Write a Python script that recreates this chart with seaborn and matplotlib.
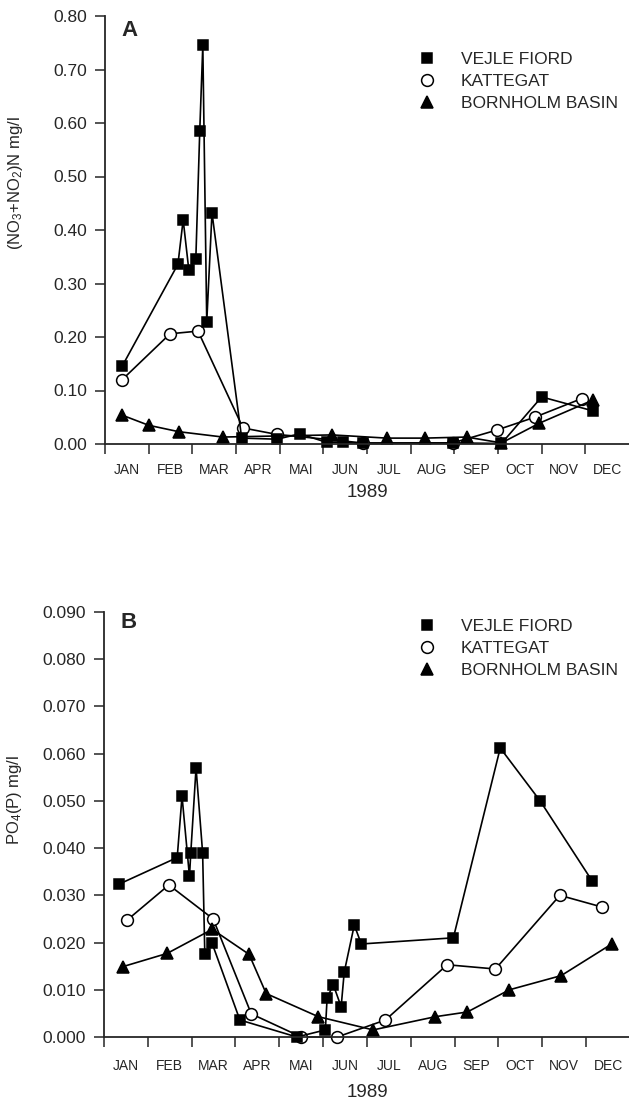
import numpy as np
import pandas as pd
import matplotlib
matplotlib.use("Agg")
import matplotlib.pyplot as plt
from matplotlib.lines import Line2D
import seaborn as sns

# ---------------- data ----------------
months = ['JAN', 'FEB', 'MAR', 'APR', 'MAI', 'JUN', 'JUL', 'AUG', 'SEP', 'OCT', 'NOV', 'DEC']
series_names = ['VEJLE FIORD', 'KATTEGAT', 'BORNHOLM BASIN']

# Panel A: (NO3+NO2)N mg/l ; x in months since 1 Jan 1989
vejle_a_x = [0.39, 1.67, 1.79, 1.92, 2.08, 2.17, 2.24, 2.33, 2.45, 3.13, 3.94, 4.46, 5.08, 5.45, 5.90, 7.96, 9.08, 10.00, 11.17]
vejle_a_y = [0.145, 0.336, 0.419, 0.325, 0.346, 0.585, 0.745, 0.228, 0.432, 0.011, 0.009, 0.019, 0.003, 0.003, 0.001, 0.002, 0.001, 0.088, 0.062]
kattegat_a_x = [0.39, 1.49, 2.13, 3.16, 3.93, 5.90, 7.96, 8.97, 9.84, 10.92]
kattegat_a_y = [0.120, 0.206, 0.211, 0.030, 0.018, 0.002, 0.002, 0.026, 0.050, 0.085]
bornholm_a_x = [0.39, 1.00, 1.69, 2.70, 5.20, 6.45, 7.32, 8.28, 9.08, 9.95, 11.17]
bornholm_a_y = [0.054, 0.035, 0.023, 0.013, 0.017, 0.011, 0.011, 0.013, 0.002, 0.039, 0.082]

# Panel B: PO4(P) mg/l
vejle_b_x = [0.35, 1.67, 1.78, 1.95, 1.98, 2.10, 2.25, 2.30, 2.46, 3.10, 4.40, 5.05, 5.09, 5.23, 5.41, 5.48, 5.71, 5.87, 7.97, 9.04, 9.95, 11.14]
vejle_b_y = [0.0324, 0.038, 0.051, 0.034, 0.039, 0.057, 0.039, 0.0175, 0.020, 0.0036, 0.0, 0.0015, 0.0082, 0.0111, 0.0064, 0.0137, 0.0237, 0.0197, 0.021, 0.0612, 0.050, 0.033]
kattegat_b_x = [0.52, 1.48, 2.49, 3.36, 4.50, 5.32, 6.42, 7.83, 8.93, 10.40, 11.37]
kattegat_b_y = [0.0247, 0.0322, 0.025, 0.0049, 0.0, 0.0, 0.0036, 0.0153, 0.0144, 0.030, 0.0275]
bornholm_b_x = [0.43, 1.44, 2.47, 3.31, 3.70, 4.89, 6.14, 7.56, 8.29, 9.25, 10.43, 11.60]
bornholm_b_y = [0.0149, 0.0177, 0.0228, 0.0175, 0.0092, 0.0043, 0.0015, 0.0043, 0.0053, 0.010, 0.013, 0.0198]

yticks_a = [0.0, 0.1, 0.2, 0.3, 0.4, 0.5, 0.6, 0.7, 0.8]
yticks_b = [0.0, 0.01, 0.02, 0.03, 0.04, 0.05, 0.06, 0.07, 0.08, 0.09]

# ---------------- style ----------------
sns.set_style("ticks")
plt.rcParams['font.family'] = ['Liberation Sans', 'DejaVu Sans']
plt.rcParams['mathtext.default'] = 'regular'
plt.rcParams['axes.linewidth'] = 1.3
plt.rcParams['xtick.major.width'] = 1.1
plt.rcParams['ytick.major.width'] = 1.1

marker_styles = {
    'VEJLE FIORD': dict(marker='s', markerfacecolor='black', markersize=7.5),
    'KATTEGAT': dict(marker='o', markerfacecolor='white', markersize=8.5),
    'BORNHOLM BASIN': dict(marker='^', markerfacecolor='black', markersize=8.5),
}

W, H = 629, 1104
fig = plt.figure(figsize=(W / 100, H / 100), dpi=100)

def px_axes(left, top, right, bottom):
    return fig.add_axes([left / W, 1 - bottom / H, (right - left) / W, (bottom - top) / H])

axA = px_axes(105, 16, 629, 444)
axB = px_axes(104, 612, 630, 1037)

def draw_panel(ax, data, yticks, fmt, ylabel, ylabel_y, letter, legend_top,
               month_pad, year_pad):
    for name in ['KATTEGAT', 'BORNHOLM BASIN', 'VEJLE FIORD']:
        xs, ys = data[name]
        df = pd.DataFrame({'month': xs, 'value': ys})
        sns.lineplot(data=df, x='month', y='value', ax=ax, color='black',
                     linewidth=1.2, estimator=None, sort=False,
                     markeredgecolor='black', markeredgewidth=1.1,
                     clip_on=False, **marker_styles[name])
    ax.set_xlim(0, 12)
    ax.set_ylim(yticks[0], yticks[-1])
    sns.despine(ax=ax)
    ax.set_yticks(yticks)
    ax.set_yticklabels([fmt.format(v) for v in yticks], fontsize=12.5)
    ax.set_xticks(np.arange(0, 12))
    ax.set_xticklabels([])
    ax.set_xticks(np.arange(12) + 0.5, minor=True)
    ax.set_xticklabels(months, minor=True, fontsize=10)
    ax.tick_params(axis='x', which='minor', length=0, pad=month_pad)
    ax.tick_params(axis='x', which='major', direction='out', length=7)
    ax.tick_params(axis='y', which='major', direction='out', length=7, pad=6)
    ax.set_xlabel('1989', fontsize=13.5, labelpad=year_pad)
    ax.set_ylabel(ylabel, fontsize=12)
    ax.yaxis.set_label_coords(-0.152, ylabel_y)
    fig.text(129 / W, 1 - letter[1] / H, letter[0], fontsize=16, fontweight='bold',
             ha='center', va='center')
    handles = [Line2D([], [], color='black', linestyle='none',
                      markeredgecolor='black', markeredgewidth=1.1,
                      **{k: v for k, v in marker_styles[n].items()})
               for n in series_names]
    fig.legend(handles, series_names, loc='upper left',
               bbox_to_anchor=(418 / W, 1 - legend_top / H),
               frameon=False, fontsize=12.5, handlelength=1.0,
               handletextpad=1.45, labelspacing=0.4, borderpad=0,
               borderaxespad=0)

draw_panel(axA,
           {'VEJLE FIORD': (vejle_a_x, vejle_a_y),
            'KATTEGAT': (kattegat_a_x, kattegat_a_y),
            'BORNHOLM BASIN': (bornholm_a_x, bornholm_a_y)},
           yticks_a, '{:.2f}', '(NO$_3$+NO$_2$)N mg/l', 0.61, ('A', 31), 52,
           14, 5)

draw_panel(axB,
           {'VEJLE FIORD': (vejle_b_x, vejle_b_y),
            'KATTEGAT': (kattegat_b_x, kattegat_b_y),
            'BORNHOLM BASIN': (bornholm_b_x, bornholm_b_y)},
           yticks_b, '{:.3f}', 'PO$_4$(P) mg/l', 0.557, ('B', 622), 619,
           16, 8)

fig.savefig('out.png', dpi=100)
